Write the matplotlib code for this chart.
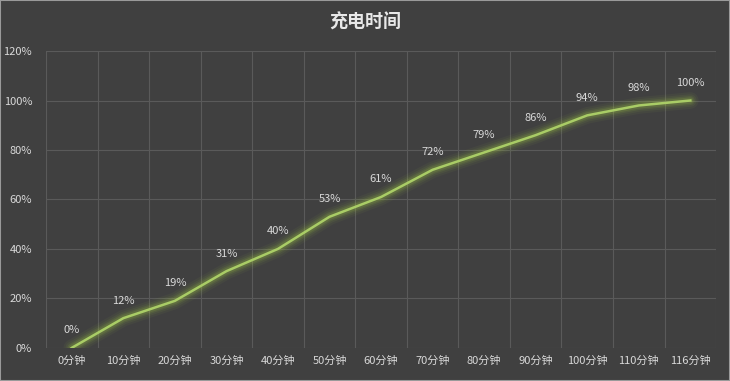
import numpy as np
import matplotlib.pyplot as plt

plt.rcParams['font.family'] = ['Noto Sans CJK SC', 'DejaVu Sans']

# === DATOS ===
categorias = ['0分钟', '10分钟', '20分钟', '30分钟', '40分钟', '50分钟', '60分钟',
              '70分钟', '80分钟', '90分钟', '100分钟', '110分钟', '116分钟']
carga = [0, 12, 19, 31, 40, 53, 61, 72, 79, 86, 94, 98, 100]
titulo = '充电时间'

bg = '#404040'
texto = '#d9d9d9'

fig = plt.figure(figsize=(7.3, 3.81), dpi=100, facecolor=bg)
ax = fig.add_axes([0.063, 0.087, 0.918, 0.779], facecolor=bg)

x = np.arange(len(categorias))

# brillo alrededor de la línea
for lw, a in [(12, 0.05), (9, 0.07), (6.5, 0.1), (4.5, 0.15)]:
    ax.plot(x, carga, color='#a8d040', lw=lw, alpha=a, solid_capstyle='round')
ax.plot(x, carga, color='#a9cc66', lw=1.8)

for xi, v in zip(x, carga):
    ax.annotate(f'{v}%', (xi, v), xytext=(0, 9), textcoords='offset points',
                ha='center', va='bottom', color=texto, fontsize=8)

ax.set_xlim(-0.5, len(categorias) - 0.5)
ax.set_ylim(0, 120)
ax.set_yticks(range(0, 121, 20))
ax.set_yticklabels([f'{v}%' for v in range(0, 121, 20)])
ax.set_xticks(x)
ax.set_xticklabels(categorias)
ax.set_xticks(np.arange(-0.5, len(categorias)), minor=True)

ax.grid(True, axis='y', color='#5a5a5a', lw=0.8)
ax.grid(True, axis='x', which='minor', color='#5a5a5a', lw=0.8)
ax.tick_params(axis='both', which='both', length=0, colors=texto, labelsize=8)
ax.tick_params(axis='x', pad=6)
ax.tick_params(axis='y', pad=10)
for s in ax.spines.values():
    s.set_visible(False)
ax.set_axisbelow(True)

fig.text(0.5, 0.942, titulo, ha='center', va='center', color='#e8e8e8',
         fontsize=13, fontweight='bold')

# borde del gráfico
fig.patches.append(plt.Rectangle((0, 0), 1, 1, transform=fig.transFigure,
                                 fill=False, ec='#9a9a9a', lw=1.5))

fig.savefig('out.png', dpi=100, facecolor=bg)
